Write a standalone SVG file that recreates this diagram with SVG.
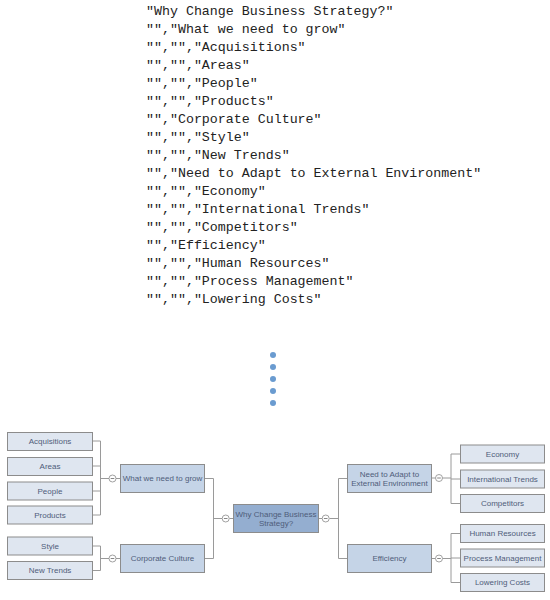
<svg xmlns="http://www.w3.org/2000/svg" width="550" height="600" viewBox="0 0 550 600">
<style>
.code{font-family:"Liberation Mono","DejaVu Sans Mono",monospace;font-size:13.3px;fill:#222}
.lbl{font-family:"Liberation Sans",Arial,sans-serif;font-size:8px;fill:#4f5d7a;text-anchor:middle}
.leaf{fill:#dfe6f0;stroke:#8c8c8c;stroke-width:1}
.mid{fill:#c5d4e7;stroke:#8c8c8c;stroke-width:1}
.root{fill:#94aed0;stroke:#8c8c8c;stroke-width:1}
.ln{fill:none;stroke:#9a9a9a;stroke-width:1}
.tog{fill:#fff;stroke:#8a8a8a;stroke-width:0.8}
.dot{fill:#6a9bd0}
</style>
<defs>
<g id="toggle"><circle r="3.5" class="tog"/><line x1="-1.8" y1="0" x2="1.8" y2="0" stroke="#666" stroke-width="0.8"/></g>
</defs>
<g id="source-text">
<text class="code" x="146" y="14.5">"Why Change Business Strategy?"</text>
<text class="code" x="146" y="32.5">"","What we need to grow"</text>
<text class="code" x="146" y="50.5">"","","Acquisitions"</text>
<text class="code" x="146" y="68.5">"","","Areas"</text>
<text class="code" x="146" y="86.5">"","","People"</text>
<text class="code" x="146" y="104.5">"","","Products"</text>
<text class="code" x="146" y="122.5">"","Corporate Culture"</text>
<text class="code" x="146" y="140.5">"","","Style"</text>
<text class="code" x="146" y="158.5">"","","New Trends"</text>
<text class="code" x="146" y="176.5">"","Need to Adapt to External Environment"</text>
<text class="code" x="146" y="194.5">"","","Economy"</text>
<text class="code" x="146" y="212.5">"","","International Trends"</text>
<text class="code" x="146" y="230.5">"","","Competitors"</text>
<text class="code" x="146" y="248.5">"","Efficiency"</text>
<text class="code" x="146" y="266.5">"","","Human Resources"</text>
<text class="code" x="146" y="284.5">"","","Process Management"</text>
<text class="code" x="146" y="302.5">"","","Lowering Costs"</text>
</g>
<g id="dots">
<circle class="dot" cx="273" cy="355" r="3"/>
<circle class="dot" cx="273" cy="367" r="3"/>
<circle class="dot" cx="273" cy="379" r="3"/>
<circle class="dot" cx="273" cy="391" r="3"/>
<circle class="dot" cx="273" cy="403" r="3"/>
</g>
<g id="connectors">
<path class="ln" d="M92 441H100.5M92 466H100.5M92 491H100.5M92 515H100.5M100.5 441V515M100.5 478.5H109M116 478.5H120"/>
<path class="ln" d="M92 546H100.5M92 570.5H100.5M100.5 546V570.5M100.5 558.5H109M116 558.5H120"/>
<path class="ln" d="M204 478.5H213.5M204 558.5H213.5M213.5 478.5V558.5M213.5 518.5H222M229.5 518.5H233"/>
<path class="ln" d="M318 518.5H322M329.5 518.5H338.5M338.5 478.5V558.5M338.5 478.5H347M338.5 558.5H347"/>
<path class="ln" d="M431 478H435.5M442.5 478H451M451 454V503.5M451 454H460.5M451 479H460.5M451 503.5H460.5"/>
<path class="ln" d="M431 558.5H435.5M442.5 558.5H451M451 533.5V582.5M451 533.5H460.5M451 558H460.5M451 582.5H460.5"/>
<use href="#toggle" x="112.5" y="478.5"/>
<use href="#toggle" x="112.5" y="558.5"/>
<use href="#toggle" x="225.7" y="518.5"/>
<use href="#toggle" x="325.7" y="518.5"/>
<use href="#toggle" x="439" y="478"/>
<use href="#toggle" x="439" y="558.5"/>
</g>
<g id="n-acquisitions"><rect class="leaf" x="7.5" y="432.5" width="85" height="18"/><text class="lbl" x="50" y="444.3">Acquisitions</text></g>
<g id="n-areas"><rect class="leaf" x="7.5" y="457.5" width="85" height="18"/><text class="lbl" x="50" y="469.3">Areas</text></g>
<g id="n-people"><rect class="leaf" x="7.5" y="482" width="85" height="18"/><text class="lbl" x="50" y="493.8">People</text></g>
<g id="n-products"><rect class="leaf" x="7.5" y="506" width="85" height="18"/><text class="lbl" x="50" y="517.8">Products</text></g>
<g id="n-style"><rect class="leaf" x="7.5" y="537" width="85" height="18"/><text class="lbl" x="50" y="548.8">Style</text></g>
<g id="n-newtrends"><rect class="leaf" x="7.5" y="561.5" width="85" height="18"/><text class="lbl" x="50" y="573.3">New Trends</text></g>
<g id="n-grow"><rect class="mid" x="120.5" y="464.5" width="84" height="28"/><text class="lbl" x="162.5" y="481.3">What we need to grow</text></g>
<g id="n-culture"><rect class="mid" x="120.5" y="544.5" width="84" height="28"/><text class="lbl" x="162.5" y="561.3">Corporate Culture</text></g>
<g id="n-root"><rect class="root" x="233.5" y="504.5" width="85" height="28"/><text class="lbl" x="276" y="516.8">Why Change Business</text><text class="lbl" x="276" y="526.3">Strategy?</text></g>
<g id="n-adapt"><rect class="mid" x="347.5" y="464.5" width="84" height="28"/><text class="lbl" x="389.5" y="476.8">Need to Adapt to</text><text class="lbl" x="389.5" y="486.3">External Environment</text></g>
<g id="n-efficiency"><rect class="mid" x="347.5" y="544.5" width="84" height="28"/><text class="lbl" x="389.5" y="561.3">Efficiency</text></g>
<g id="n-economy"><rect class="leaf" x="460.5" y="445" width="84" height="18"/><text class="lbl" x="502.5" y="456.8">Economy</text></g>
<g id="n-intl"><rect class="leaf" x="460.5" y="470" width="84" height="18"/><text class="lbl" x="502.5" y="481.8">International Trends</text></g>
<g id="n-competitors"><rect class="leaf" x="460.5" y="494.5" width="84" height="18"/><text class="lbl" x="502.5" y="506.3">Competitors</text></g>
<g id="n-hr"><rect class="leaf" x="460.5" y="524.5" width="84" height="18"/><text class="lbl" x="502.5" y="536.3">Human Resources</text></g>
<g id="n-process"><rect class="leaf" x="460.5" y="549" width="84" height="18"/><text class="lbl" x="502.5" y="560.8">Process Management</text></g>
<g id="n-lowering"><rect class="leaf" x="460.5" y="573.5" width="84" height="18"/><text class="lbl" x="502.5" y="585.3">Lowering Costs</text></g>
</svg>
